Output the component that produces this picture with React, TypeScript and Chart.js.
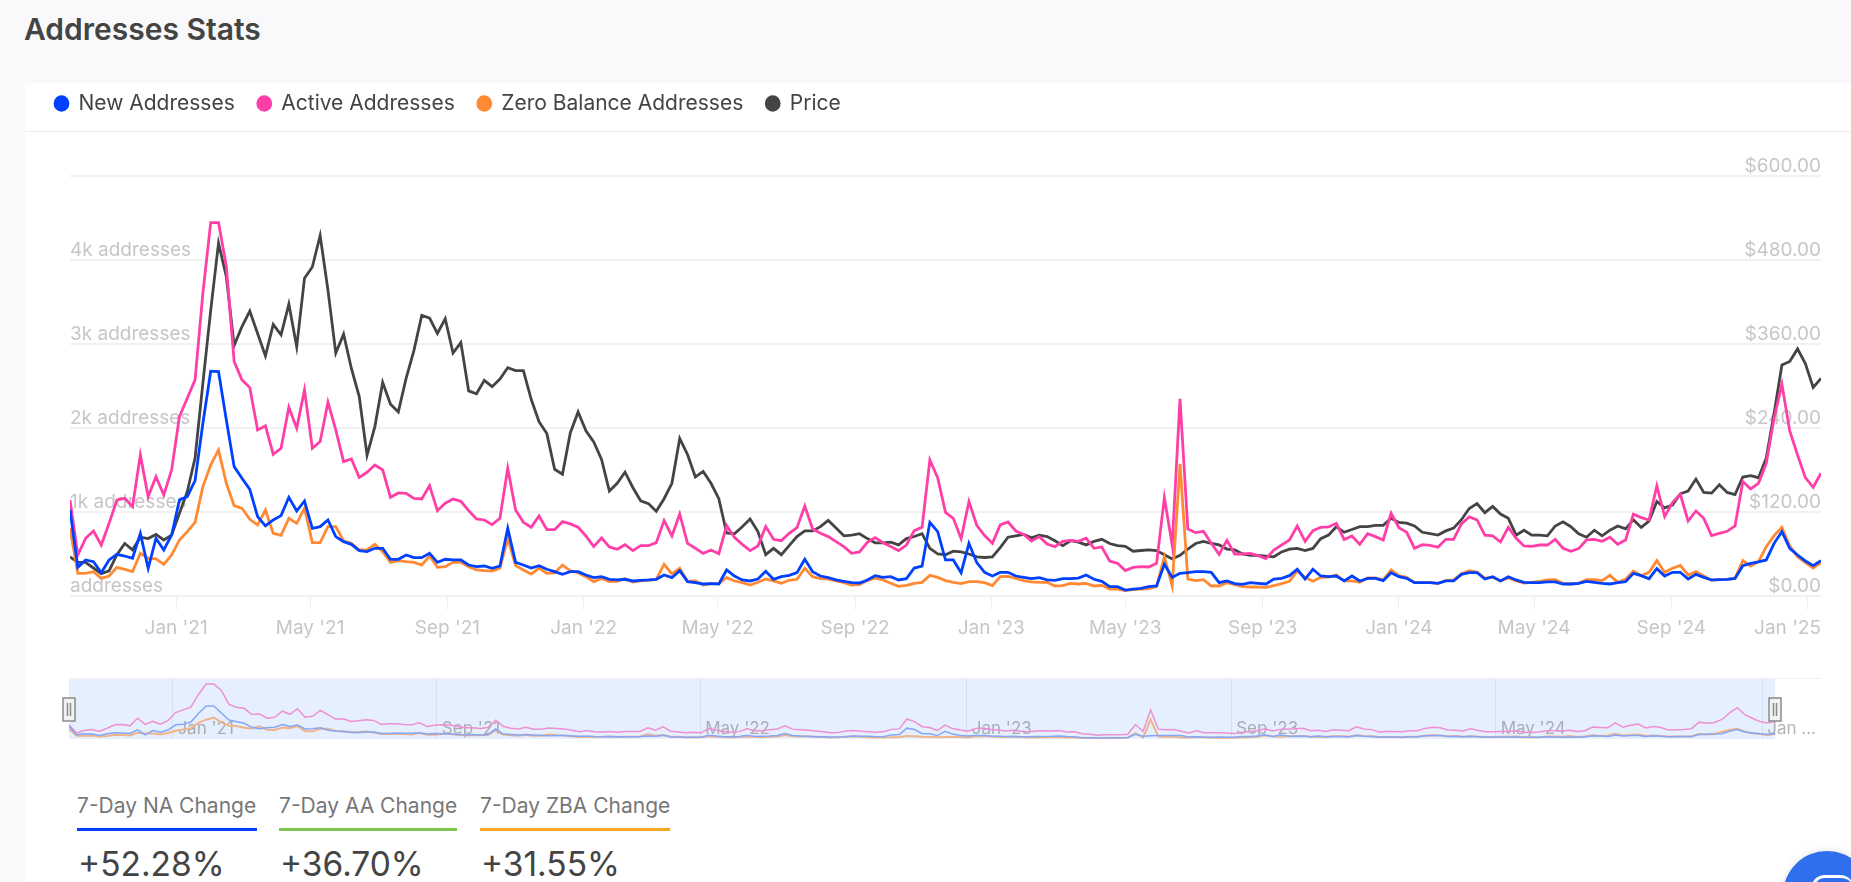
import React, { useEffect, useRef } from "react";
import { Chart, registerables } from "chart.js";

Chart.register(...registerables);

const newAddresses = [
  1024,341,429,409,278,429,496,476,449,746,330,687,548,727,1143,1183,1374,2056,2676,2672,2096,1540,1401,1270,945,834,905,957,1175,1012,1131,806,826,905,707,647,615,540,
  528,568,568,437,437,488,457,457,508,401,437,429,429,369,349,357,330,357,806,401,369,333,361,318,290,258,290,290,250,218,230,199,191,199,179,187,191,199,250,218,302,171,159,143,147,143,310,238,191,179,
  202,294,199,230,246,278,437,290,238,218,191,175,159,155,191,242,222,230,191,206,333,357,877,766,429,429,278,627,397,282,238,282,282,238,222,206,218,191,187,206,206,214,250,199,175,111,111,71,83,91,
  111,119,377,222,270,278,290,290,282,159,179,147,139,159,151,143,202,210,242,318,202,318,238,230,238,179,238,179,210,210,183,278,230,210,159,159,159,151,179,179,258,278,278,202,230,179,
  230,191,163,159,159,167,167,143,143,151,175,163,151,143,159,171,270,242,206,326,238,282,282,202,258,222,191,195,199,210,361,389,405,429,627,766,568,488,417,361,421,
];
const activeAddresses = [
  1143,488,687,774,607,865,1143,1163,1064,1679,1183,1421,1203,1501,2136,2354,2573,3605,4446,4446,3922,2791,2573,2481,1977,2025,1687,1759,2247,1997,2453,1759,1838,2307,1977,1600,
  1632,1413,1473,1560,1501,1175,1227,1223,1163,1155,1314,1016,1104,1155,1127,1016,917,905,850,925,1521,1024,877,818,953,790,790,885,858,818,715,588,691,584,556,611,540,599,599,635,897,715,977,627,568,508,548,504,838,699,615,540,
  596,826,675,659,746,814,1072,798,746,707,647,588,508,524,639,695,635,588,540,607,778,818,1620,1409,996,925,683,1124,842,719,627,846,881,774,734,655,707,619,588,651,663,651,687,568,584,417,389,302,341,349,
  345,389,1171,607,2346,798,754,770,627,496,663,500,500,508,480,445,548,607,667,834,651,778,818,822,865,671,715,615,742,707,667,985,814,758,568,611,603,580,675,675,858,941,905,723,715,643,
  818,687,596,592,607,607,675,568,532,564,667,675,651,699,615,667,973,933,905,1310,945,1112,1211,893,1012,925,719,746,770,834,1362,1274,1342,1580,2116,2521,1965,1679,1409,1294,1461,
];
const zeroBalanceAddresses = [
  806,270,270,290,210,238,341,318,290,508,449,441,377,488,667,766,877,1302,1560,1739,1342,1076,1044,913,846,1024,746,723,925,865,1044,635,635,826,826,655,
  627,548,548,615,528,401,421,409,401,369,476,341,349,401,401,349,310,302,298,330,687,361,310,262,333,270,274,369,298,278,230,171,210,171,175,206,167,179,187,199,377,262,330,175,179,131,147,147,218,179,159,131,
  163,202,179,151,187,199,330,230,206,202,179,159,131,135,183,214,191,151,115,127,151,163,246,222,183,163,147,171,171,159,123,230,234,210,183,167,163,163,119,123,151,143,151,119,127,83,83,64,75,83,
  87,111,468,119,1572,202,183,195,119,119,159,135,111,107,107,103,123,147,175,298,222,175,222,226,250,179,179,163,214,214,191,310,242,222,159,163,159,151,183,191,266,302,286,214,222,179,
  214,179,155,163,175,191,195,151,143,151,195,195,183,246,163,199,298,242,282,421,282,330,365,250,290,238,187,195,199,210,421,357,409,588,719,818,596,468,397,333,397,
];
const price = [
  56,48,48,40,32,36,59,75,66,84,82,88,80,87,118,149,197,304,408,504,456,358,385,407,375,343,388,373,417,356,454,470,515,437,347,374,
  325,285,201,242,305,274,263,311,351,401,397,375,396,347,362,293,289,308,299,310,326,322,322,281,249,232,181,174,233,263,236,220,195,150,161,177,155,136,132,121,139,161,225,202,170,178,161,139,90,89,99,110,
  92,59,68,59,72,85,93,93,99,108,97,86,87,89,82,76,76,77,73,82,85,89,68,60,59,64,63,60,56,55,56,69,84,86,88,83,87,85,79,72,79,77,73,78,81,75,72,71,64,65,
  66,65,59,53,58,67,75,78,75,73,67,66,60,58,58,57,56,63,67,68,65,68,82,87,99,91,95,99,99,101,101,111,105,104,100,91,89,87,93,97,109,125,132,119,128,117,
  111,87,94,87,87,86,100,106,99,89,84,94,86,94,100,96,109,98,107,135,126,130,146,150,167,148,147,159,148,145,170,172,169,197,261,330,335,353,332,298,311,
];

const firstWeek = Date.UTC(2020, 8, 28);
const WEEK = 7 * 864e5;
const weeks = price.map((_, i) => firstWeek + i * WEEK);

const mainTicks: [number, number, string][] = [
  [2021,0,"Jan '21"],[2021,4,"May '21"],[2021,8,"Sep '21"],[2022,0,"Jan '22"],[2022,4,"May '22"],[2022,8,"Sep '22"],
  [2023,0,"Jan '23"],[2023,4,"May '23"],[2023,8,"Sep '23"],[2024,0,"Jan '24"],[2024,4,"May '24"],[2024,8,"Sep '24"],[2025,0,"Jan '25"],
];
const navTicks: [number, number, string][] = [
  [2021,0,"Jan '21"],[2021,8,"Sep '21"],[2022,4,"May '22"],[2023,0,"Jan '23"],[2023,8,"Sep '23"],[2024,4,"May '24"],[2025,0,"Jan ..."],
];
const addressTicks: Record<number, string> = { 0: "addresses", 1000: "1k addresses", 2000: "2k addresses", 3000: "3k addresses", 4000: "4k addresses", 5000: "" };

const stats = [
  { label: "7-Day NA Change", value: "+52.28%", left: 77, width: 180, color: "#0040ff" },
  { label: "7-Day AA Change", value: "+36.70%", left: 279, width: 178, color: "#7ec850" },
  { label: "7-Day ZBA Change", value: "+31.55%", left: 480, width: 190, color: "#f5a623" },
];

const BLUE = "#0040ff", PINK = "#ff3fa8", ORANGE = "#ff8a33", DARK = "#444444", FAINT = "#c6c6c6";
const FONT = "Inter";

const toXY = (arr: number[]) => arr.map((y, i) => ({ x: weeks[i], y }));
const tickValue = (t: [number, number, string]) => Date.UTC(t[0], t[1], 1);
const tickText = (list: [number, number, string][], v: number) => {
  const t = list.find((k) => tickValue(k) === v);
  return t ? t[2] : "";
};

// Keeps the last x label inside the plot, as the reference does.
const pinLastLabel = (s: any) => {
  if (s.__pinned) return;
  s.__pinned = true;
  const compute = s._computeLabelItems;
  s._computeLabelItems = function (area: any) {
    const items = compute.call(this, area);
    const last = items[items.length - 1];
    if (last) {
      last.options.textAlign = "right";
      last.options.translation = [this.right, last.options.translation[1]];
    }
    return items;
  };
};

export default function App() {
  const mainRef = useRef<HTMLCanvasElement>(null);
  const navRef = useRef<HTMLCanvasElement>(null);

  useEffect(() => {
    const line = (label: string, data: number[], color: string, yAxisID: string) => ({
      label, data: toXY(data), borderColor: color, backgroundColor: color, borderWidth: 2.8,
      pointRadius: 0, tension: 0, yAxisID, borderJoinStyle: "miter" as const,
    });
    const main = new Chart(mainRef.current!, {
      type: "line",
      data: {
        datasets: [
          line("New Addresses", newAddresses, BLUE, "left"),
          line("Active Addresses", activeAddresses, PINK, "left"),
          line("Zero Balance Addresses", zeroBalanceAddresses, ORANGE, "left"),
          line("Price", price, DARK, "right"),
        ],
      },
      options: {
        animation: false, responsive: false, parsing: false as any, normalized: true,
        layout: { padding: { left: 7, right: 30, top: 0, bottom: 0 } },
        plugins: {
          tooltip: { enabled: false },
          legend: {
            display: true, position: "top", align: "start",
            onClick: () => {},
            labels: {
              usePointStyle: true, pointStyle: "circle", pointStyleWidth: 13, boxHeight: 9.6, padding: 23,
              color: "#444444", font: { family: FONT, size: 21 },
            },
          },
        },
        scales: {
          x: {
            type: "linear", min: weeks[0], max: weeks[weeks.length - 1],
            afterBuildTicks: (s: any) => { s.ticks = mainTicks.map((t) => ({ value: tickValue(t) })); },
            afterFit: (s: any) => { s.height = 44; pinLastLabel(s); },
            grid: { drawOnChartArea: false, drawTicks: true, tickLength: 14, color: "#f0f0f0", lineWidth: 1 },
            border: { display: false },
            ticks: {
              autoSkip: false, maxRotation: 0, padding: 7, color: FAINT, font: { family: FONT, size: 19 },
              callback: (v: any) => tickText(mainTicks, v),
            },
          },
          left: {
            type: "linear", position: "left", min: 0, max: 5000,
            afterFit: (s: any) => { s.width = 38; },
            grid: { color: "#f1f1f1", lineWidth: 2, drawTicks: false },
            border: { display: false },
            ticks: {
              stepSize: 1000, mirror: true, padding: 0, labelOffset: -10, color: FAINT, font: { family: FONT, size: 19 },
              callback: (v: any) => addressTicks[v],
            },
          },
          right: {
            type: "linear", position: "right", min: 0, max: 600,
            afterFit: (s: any) => { s.width = 0; },
            grid: { display: false },
            border: { display: false },
            ticks: {
              stepSize: 120, mirror: true, padding: 0, labelOffset: -10, color: FAINT, font: { family: FONT, size: 19 },
              callback: (v: any) => `$${Number(v).toFixed(2)}`,
            },
          },
        },
      },
      plugins: [
        {
          id: "legendGap",
          beforeInit(chart: any) {
            const fit = chart.legend.fit;
            chart.legend.fit = function () {
              fit.call(this);
              this.height = 106;
            };
          },
        },
      ],
    } as any);

    const navLine = (label: string, data: number[], color: string, borderWidth: number) => ({
      label, data: toXY(data), borderColor: color, borderWidth, pointRadius: 0, tension: 0,
    });
    const navBand = {
      id: "navBand",
      beforeDraw(chart: any) {
        const { ctx, chartArea: a, scales } = chart;
        const x0 = scales.x.getPixelForValue(weeks[0]);
        const x1 = scales.x.getPixelForValue(weeks[weeks.length - 1]);
        ctx.save();
        ctx.fillStyle = "#e5effe";
        ctx.fillRect(x0, a.top, x1 - x0, a.bottom - a.top);
        ctx.strokeStyle = "#f0f0f0";
        ctx.lineWidth = 1;
        ctx.beginPath();
        ctx.moveTo(x0, a.top - 0.5);
        ctx.lineTo(a.right, a.top - 0.5);
        ctx.stroke();
        ctx.restore();
      },
      afterDraw(chart: any) {
        const { ctx, scales } = chart;
        [weeks[0], weeks[weeks.length - 1]].forEach((w) => {
          const cx = Math.round(scales.x.getPixelForValue(w));
          ctx.save();
          ctx.fillStyle = "#f2f2f2";
          ctx.strokeStyle = "#8a8a8a";
          ctx.lineWidth = 1.5;
          ctx.fillRect(cx - 6, 28, 12, 23);
          ctx.strokeRect(cx - 6, 28, 12, 23);
          ctx.beginPath();
          ctx.moveTo(cx - 1.5, 33); ctx.lineTo(cx - 1.5, 46);
          ctx.moveTo(cx + 1.5, 33); ctx.lineTo(cx + 1.5, 46);
          ctx.stroke();
          ctx.restore();
        });
      },
    };
    const nav = new Chart(navRef.current!, {
      type: "line",
      data: {
        datasets: [
          navLine("New Addresses", newAddresses, "#86a6f8", 1.5),
          navLine("Active Addresses", activeAddresses, "#ee90d2", 1.5),
          navLine("Zero Balance Addresses", zeroBalanceAddresses, "#f0b48a", 2),
        ],
      },
      options: {
        animation: false, responsive: false, parsing: false as any, normalized: true,
        layout: { padding: { left: 14, right: 31, top: 9, bottom: 11 } },
        plugins: { legend: { display: false }, tooltip: { enabled: false } },
        scales: {
          x: {
            type: "linear", min: weeks[0], max: weeks[0] + 1610 * 864e5,
            afterBuildTicks: (s: any) => { s.ticks = navTicks.map((t) => ({ value: tickValue(t) })); },
            afterFit: (s: any) => { s.height = 0; },
            grid: { drawOnChartArea: true, drawTicks: false, color: "rgba(190,205,225,0.45)" },
            border: { display: false },
            ticks: {
              autoSkip: false, maxRotation: 0, align: "start", labelOffset: 5, mirror: true, padding: 0,
              color: "rgba(130,130,130,0.6)", font: { family: FONT, size: 17 },
              callback: (v: any) => tickText(navTicks, v),
            },
          },
          y: { display: false, min: 0, max: 4850 },
        },
      },
      plugins: [navBand],
    } as any);

    return () => { main.destroy(); nav.destroy(); };
  }, []);

  return (
    <div style={{ position: "fixed", left: 0, top: 0, width: 1851, height: 882, overflow: "hidden", background: "#f9f9fb", fontFamily: "Inter" }}>
      <div style={{ position: "absolute", left: 24, top: 10, fontSize: 30, fontWeight: 600, color: "#444", lineHeight: "38px" }}>Addresses Stats</div>
      <div style={{ position: "absolute", left: 25, top: 83, right: 0, bottom: 0, background: "#fff" }} />
      <div style={{ position: "absolute", left: 25, top: 131, right: 0, height: 1, background: "#eeeeee" }} />
      <canvas ref={mainRef} width={1826} height={570} style={{ position: "absolute", left: 25, top: 70, display: "block" }} />
      <canvas ref={navRef} width={1797} height={80} style={{ position: "absolute", left: 55, top: 670, display: "block" }} />
      {stats.map((s) => (
        <div key={s.label} style={{ position: "absolute", left: s.left, top: 790, width: s.width }}>
          <div style={{ fontSize: 21, lineHeight: "32px", color: "#777", whiteSpace: "nowrap" }}>{s.label}</div>
          <div style={{ height: 3, marginTop: 6, background: s.color }} />
          <div style={{ fontSize: 33.5, lineHeight: "40px", marginTop: 13, marginLeft: 1, color: "#444", whiteSpace: "nowrap" }}>{s.value}</div>
        </div>
      ))}
      <div style={{ position: "absolute", left: 1783, top: 851, width: 88, height: 88, borderRadius: "50%", background: "#2f6fed", boxShadow: "0 0 8px rgba(0,0,0,0.12)" }}>
        <div style={{ position: "absolute", left: 28, top: 24, width: 40, height: 14, borderTop: "3px solid #fff", borderLeft: "3px solid #fff", borderRadius: "14px 14px 0 0" }} />
      </div>
    </div>
  );
}
